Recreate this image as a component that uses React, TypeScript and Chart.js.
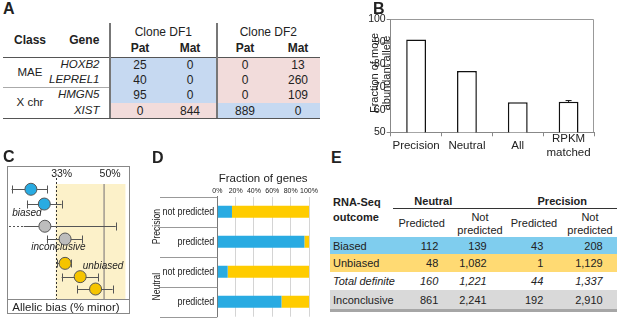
import React, { useEffect, useRef } from "react";
import { Chart, registerables } from "chart.js";
Chart.register(...registerables);

const FONT = "'Liberation Sans', Arial, Helvetica, sans-serif";
const INK = "#222";

// ---------- Panel A data ----------
const aClasses = ["MAE", "X chr"];
const aClassSpan = [2, 2];
const aGenes = ["HOXB2", "LEPREL1", "HMGN5", "XIST"];
const aClones = ["Clone DF1", "Clone DF2"];
const aAlleles = ["Pat", "Mat"];
const aDF1Pat = [25, 40, 95, 0];
const aDF1Mat = [0, 0, 0, 844];
const aDF2Pat = [0, 0, 0, 889];
const aDF2Mat = [13, 260, 109, 0];

// ---------- Panel B data ----------
const bCategories: (string | string[])[] = ["Precision", "Neutral", "All", ["RPKM", "matched"]];
const bValues = [91.0, 77.1, 63.3, 63.5];
const bErrors = [0, 0, 0, 0.5];
const bYMin = 50;
const bYMax = 100;
const bYStep = 10;

// ---------- Panel C data ----------
const cValues = [24.3, 29.0, 29.2, 36.3, 36.3, 41.6, 47.0];
const cLow = [17.5, 22.9, 21.8, 29.9, 33.4, 35.1, 40.5];
const cHigh = [30.0, 35.1, 54.1, 42.2, 38.5, 47.9, 53.0];
const cOpenLow = [false, false, true, false, false, false, false];
const cRows = [1.75, 2.86, 4.53, 5.49, 7.32, 8.32, 9.25];
const cClasses = ["biased", "biased", "inconclusive", "inconclusive", "unbiased", "unbiased", "unbiased"];
const cClassLabels = ["biased", "inconclusive", "unbiased"];
const cClassLabelX = [17.7, 24.4, 42.5];
const cClassLabelRow = [3.56, 6.07, 7.5];
const cRefLines = [33, 50];
const cRefTickLabels = ["33%", "50%"];
const cUnbiasedRange = [33, 57.5];
const cXRange = [15.9, 59.1];

// ---------- Panel D data ----------
const dCategories = ["not predicted", "predicted", "not predicted", "predicted"];
const dGroups = ["Precision", "Neutral"];
const dBiased = [16, 95, 11.3, 70];
const dUnbiased = [84, 5, 88.7, 30];
const dTicks = [0, 20, 40, 60, 80, 100];

// ---------- Panel E data ----------
const eRowLabels = ["Biased", "Unbiased", "Total definite", "Inconclusive"];
const eGroups = ["Neutral", "Precision"];
const eSubHeads = ["Predicted", "Not\npredicted", "Predicted", "Not\npredicted"];
const eNeutralPredicted = [112, 48, 160, 861];
const eNeutralNotPredicted = [139, 1082, 1221, 2241];
const ePrecisionPredicted = [43, 1, 44, 192];
const ePrecisionNotPredicted = [208, 1129, 1337, 2910];

const BLUE = "#29abe2";
const YELLOW = "#ffcc00";
const GRAY_PT = "#bdbdbd";

type TxtProps = {
  x: number;
  y: number;
  children: React.ReactNode;
  align?: "left" | "center" | "right";
  size?: number;
  bold?: boolean;
  italic?: boolean;
  color?: string;
  rotate?: boolean;
};

function Txt({ x, y, children, align = "left", size = 11, bold, italic, color, rotate }: TxtProps) {
  const tx = rotate ? "-50%" : align === "left" ? "0" : align === "center" ? "-50%" : "-100%";
  return (
    <div
      style={{
        position: "absolute",
        left: x,
        top: y,
        transform: `translate(${tx},-50%)${rotate ? " rotate(-90deg)" : ""}`,
        fontSize: size,
        lineHeight: 1,
        fontWeight: bold ? "bold" : "normal",
        fontStyle: italic ? "italic" : "normal",
        whiteSpace: "pre",
        textAlign: "center",
        fontFamily: FONT,
        color: color ?? INK,
      }}
    >
      {children}
    </div>
  );
}

function Rect({ x, y, w, h, bg }: { x: number; y: number; w: number; h: number; bg: string }) {
  return <div style={{ position: "absolute", left: x, top: y, width: w, height: h, background: bg }} />;
}

function PanelA() {
  const rowTop = 57.3;
  const rowH = 15.25;
  const colX = [110, 216.7, 320];
  const valueCols = [aDF1Pat, aDF1Mat, aDF2Pat, aDF2Mat];
  const valueX = [140, 190, 245, 298];
  const cells: React.ReactNode[] = [];
  aGenes.forEach((g, r) => {
    const y = rowTop + r * rowH;
    const df1Blue = aDF1Pat[r] > aDF1Mat[r];
    const df2Blue = aDF2Pat[r] > aDF2Mat[r];
    cells.push(<Rect key={"c1" + r} x={colX[0]} y={y} w={colX[1] - colX[0]} h={rowH + 0.5} bg={df1Blue ? "#c6d9f1" : "#f2dcdb"} />);
    cells.push(<Rect key={"c2" + r} x={colX[1]} y={y} w={colX[2] - colX[1]} h={rowH + 0.5} bg={df2Blue ? "#c6d9f1" : "#f2dcdb"} />);
  });
  let acc = 0;
  const classes = aClasses.map((c, i) => {
    const start = acc;
    acc += aClassSpan[i];
    const yc = rowTop + ((start + acc) / 2) * rowH;
    return (
      <Txt key={"cl" + i} x={30} y={yc} align="center" size={11.5}>
        {c}
      </Txt>
    );
  });
  return (
    <>
      {cells}
      <Txt x={3} y={9} size={16} bold>A</Txt>
      <Txt x={30} y={40} align="center" size={12} bold>Class</Txt>
      <Txt x={84.3} y={40} align="center" size={12} bold>Gene</Txt>
      {aClones.map((c, i) => (
        <Txt key={c} x={(colX[i] + colX[i + 1]) / 2} y={32.3} align="center" size={12}>
          {c}
        </Txt>
      ))}
      {valueX.map((x, i) => (
        <Txt key={"al" + i} x={x} y={48.3} align="center" size={12} bold>
          {aAlleles[i % 2]}
        </Txt>
      ))}
      {aGenes.map((g, r) => (
        <Txt key={g} x={99.5} y={rowTop + (r + 0.5) * rowH} align="right" size={11.5} italic>
          {g}
        </Txt>
      ))}
      {valueCols.map((col, ci) =>
        col.map((v, r) => (
          <Txt key={"v" + ci + r} x={valueX[ci]} y={rowTop + (r + 0.5) * rowH} align="center" size={12}>
            {v}
          </Txt>
        ))
      )}
      {classes}
      <Rect x={3} y={rowTop - 0.75} w={317} h={1.5} bg="#555" />
      <Rect x={3} y={rowTop + 4 * rowH - 0.75} w={317} h={1.5} bg="#555" />
      <Rect x={3} y={rowTop + 2 * rowH - 0.5} w={107} h={1} bg="#aaa" />
      <Rect x={colX[0] - 1} y={23} w={2} h={rowTop + 4 * rowH - 23} bg="#777" />
      <Rect x={colX[1] - 1} y={23} w={2} h={rowTop + 4 * rowH - 23} bg="#777" />
    </>
  );
}

function PanelE() {
  const bands = [
    [237, 254, "#7fcdee"],
    [254, 272, "#ffda73"],
    [272, 290, "#ffffff"],
    [290, 309, "#d9d9d9"],
  ] as [number, number, string][];
  const cols = [eNeutralPredicted, eNeutralNotPredicted, ePrecisionPredicted, ePrecisionNotPredicted];
  const colRight = [438.3, 486.7, 543.3, 602.7];
  const subX = [421.7, 480, 534, 590];
  return (
    <>
      {bands.map(([a, b, c], i) => (
        <Rect key={"b" + i} x={330} y={a} w={287} h={b - a} bg={c} />
      ))}
      <Rect x={330} y={309} w={287} h={3} bg="#a6a6a6" />
      <Txt x={331} y={158} size={16} bold>E</Txt>
      <Txt x={333} y={201.7} size={11} bold>RNA-Seq</Txt>
      <Txt x={333} y={216.7} size={11} bold>outcome</Txt>
      <Txt x={433.3} y={200.5} align="center" size={11} bold>{eGroups[0]}</Txt>
      <Txt x={562.3} y={200.5} align="center" size={11} bold>{eGroups[1]}</Txt>
      <Rect x={393} y={208} w={224} h={1} bg="#333" />
      {eSubHeads.map((s, i) => (
        <div
          key={"sh" + i}
          style={{
            position: "absolute",
            left: subX[i],
            top: 223.5,
            transform: "translate(-50%,-50%)",
            fontSize: 11,
            lineHeight: "13.5px",
            textAlign: "center",
            whiteSpace: "pre",
            fontFamily: FONT,
            color: INK,
          }}
        >
          {s}
        </div>
      ))}
      {eRowLabels.map((l, r) => (
        <Txt key={l} x={333} y={(bands[r][0] + bands[r][1]) / 2} size={11} italic={r === 2}>
          {l}
        </Txt>
      ))}
      {cols.map((col, ci) =>
        col.map((v, r) => (
          <Txt key={"e" + ci + r} x={colRight[ci]} y={(bands[r][0] + bands[r][1]) / 2} align="right" size={11} italic={r === 2}>
            {v.toLocaleString("en-US")}
          </Txt>
        ))
      )}
    </>
  );
}

export default function App() {
  const bRef = useRef<HTMLCanvasElement>(null);
  const cRef = useRef<HTMLCanvasElement>(null);
  const dRef = useRef<HTMLCanvasElement>(null);

  useEffect(() => {
    const charts: Chart[] = [];

    // ----- Panel B -----
    const bPlugin = {
      id: "bDecor",
      afterDatasetsDraw(chart: any) {
        const { ctx, chartArea: a, scales } = chart;
        ctx.save();
        ctx.strokeStyle = "#999";
        ctx.lineWidth = 1;
        ctx.beginPath();
        ctx.moveTo(a.left, a.top + 0.5);
        ctx.lineTo(a.right - 0.5, a.top + 0.5);
        ctx.lineTo(a.right - 0.5, a.bottom);
        ctx.stroke();
        ctx.strokeStyle = "#111";
        ctx.lineWidth = 1;
        bErrors.forEach((e, i) => {
          if (!e) return;
          const x = scales.x.getPixelForValue(i);
          const y1 = scales.y.getPixelForValue(bValues[i] + e);
          const y0 = scales.y.getPixelForValue(bValues[i] - e);
          ctx.beginPath();
          ctx.moveTo(x, y0);
          ctx.lineTo(x, y1);
          ctx.moveTo(x - 3, y1);
          ctx.lineTo(x + 3, y1);
          ctx.stroke();
        });
        ctx.restore();
      },
    };
    charts.push(
      new Chart(bRef.current!, {
        type: "bar",
        data: {
          labels: bCategories as any,
          datasets: [
            {
              data: bValues,
              backgroundColor: "#ffffff",
              borderColor: "#111",
              borderWidth: 1.5,
              barPercentage: 0.39,
              categoryPercentage: 1,
            },
          ],
        },
        options: {
          responsive: false,
          animation: false,
          layout: { padding: { left: 0, right: 23, top: 19, bottom: 0 } },
          plugins: { legend: { display: false }, tooltip: { enabled: false } },
          scales: {
            x: {
              grid: { display: true, drawOnChartArea: false, drawTicks: true, tickLength: 4, color: "#888", offset: true },
              border: { color: "#888" },
              ticks: {
                font: { family: FONT, size: 11.5 },
                color: INK,
                padding: 3,
                crossAlign: "center",
                maxRotation: 0,
                minRotation: 0,
                autoSkip: false,
              } as any,
              afterFit: (s: any) => {
                s.height = 32.7;
              },
            },
            y: {
              min: bYMin,
              max: bYMax,
              ticks: { stepSize: bYStep, font: { family: FONT, size: 10.5 }, color: INK, padding: 1, autoSkip: false },
              grid: { drawOnChartArea: false, drawTicks: true, tickLength: 4, color: "#888" },
              border: { color: "#888" },
              afterFit: (s: any) => {
                s.width = 30.7;
              },
            },
          },
        },
        plugins: [bPlugin],
      })
    );

    // ----- Panel C -----
    const classColor: Record<string, string> = { biased: BLUE, inconclusive: GRAY_PT, unbiased: "#f5c400" };
    const cPlugin = {
      id: "cDecor",
      beforeDatasetsDraw(chart: any) {
        const { ctx, chartArea: a, scales } = chart;
        const X = scales.x, Y = scales.y;
        ctx.save();
        const bx0 = X.getPixelForValue(cUnbiasedRange[0]);
        const bx1 = X.getPixelForValue(cUnbiasedRange[1]);
        const bandTop = a.top + 18;
        ctx.fillStyle = "#fcf1c9";
        ctx.fillRect(bx0, bandTop, bx1 - bx0, a.bottom - bandTop);
        const r50 = X.getPixelForValue(cRefLines[1]);
        ctx.strokeStyle = "#a09a90";
        ctx.lineWidth = 1.5;
        ctx.beginPath();
        ctx.moveTo(r50, bandTop);
        ctx.lineTo(r50, a.bottom);
        ctx.stroke();
        const r33 = X.getPixelForValue(cRefLines[0]);
        ctx.strokeStyle = "#333";
        ctx.lineWidth = 1;
        ctx.setLineDash([2, 2]);
        ctx.beginPath();
        ctx.moveTo(Math.round(r33) + 0.5, a.top + 12);
        ctx.lineTo(Math.round(r33) + 0.5, a.bottom);
        ctx.stroke();
        ctx.setLineDash([]);
        ctx.fillStyle = INK;
        ctx.font = `10.5px ${FONT}`;
        ctx.textAlign = "center";
        ctx.textBaseline = "middle";
        cRefLines.forEach((v, i) => {
          ctx.fillText(cRefTickLabels[i], X.getPixelForValue(v) + 6, a.top + 8.5);
        });
        ctx.strokeStyle = "#555";
        ctx.lineWidth = 1;
        cValues.forEach((v, i) => {
          const y = Math.round(Y.getPixelForValue(cRows[i])) + 0.5;
          const xl = X.getPixelForValue(cLow[i]);
          const xh = X.getPixelForValue(cHigh[i]);
          ctx.beginPath();
          ctx.moveTo(xl, y);
          ctx.lineTo(xh, y);
          ctx.moveTo(Math.round(xh) + 0.5, y - 4);
          ctx.lineTo(Math.round(xh) + 0.5, y + 4);
          if (!cOpenLow[i]) {
            ctx.moveTo(Math.round(xl) + 0.5, y - 4);
            ctx.lineTo(Math.round(xl) + 0.5, y + 4);
          }
          ctx.stroke();
          if (cOpenLow[i]) {
            ctx.setLineDash([2, 2]);
            ctx.beginPath();
            ctx.moveTo(a.left + 2, y);
            ctx.lineTo(xl, y);
            ctx.stroke();
            ctx.setLineDash([]);
          }
        });
        ctx.font = `italic 10px ${FONT}`;
        ctx.textAlign = "left";
        ctx.fillStyle = INK;
        cClassLabels.forEach((l, i) => {
          ctx.fillText(l, X.getPixelForValue(cClassLabelX[i]), Y.getPixelForValue(cClassLabelRow[i]));
        });
        ctx.restore();
      },
      afterDraw(chart: any) {
        const { ctx, chartArea: a } = chart;
        ctx.save();
        ctx.strokeStyle = "#888";
        ctx.lineWidth = 1;
        ctx.strokeRect(a.left + 0.5, a.top + 0.5, a.right - a.left - 1, a.bottom - a.top + 14);
        ctx.beginPath();
        ctx.moveTo(a.left, a.bottom + 0.5);
        ctx.lineTo(a.right, a.bottom + 0.5);
        ctx.stroke();
        ctx.fillStyle = INK;
        ctx.font = `11.5px ${FONT}`;
        ctx.textAlign = "left";
        ctx.textBaseline = "middle";
        ctx.fillText("Allelic bias (% minor)", a.left + 5.3, a.bottom + 8.5);
        ctx.restore();
      },
    };
    charts.push(
      new Chart(cRef.current!, {
        type: "scatter",
        data: {
          datasets: [
            {
              data: cValues.map((v, i) => ({ x: v, y: cRows[i] })),
              pointRadius: 6,
              pointBackgroundColor: cClasses.map((c) => classColor[c]),
              pointBorderColor: "#555",
              pointBorderWidth: 1,
              clip: false as any,
            },
          ],
        },
        options: {
          responsive: false,
          animation: false,
          layout: { padding: { left: 3, right: 30, top: 21, bottom: 20 } },
          plugins: { legend: { display: false }, tooltip: { enabled: false } },
          scales: {
            x: { type: "linear", min: cXRange[0], max: cXRange[1], display: false },
            y: { type: "linear", min: 0, max: 10, reverse: true, display: false },
          },
        },
        plugins: [cPlugin],
      })
    );

    // ----- Panel D -----
    const dPlugin = {
      id: "dDecor",
      afterDraw(chart: any) {
        const { ctx, chartArea: a, scales } = chart;
        const Y = scales.y;
        ctx.save();
        ctx.strokeStyle = "#999";
        ctx.lineWidth = 1;
        for (let i = 0; i <= dCategories.length; i++) {
          const y = Math.round(Y.getPixelForValue(i - 0.5)) + 0.5;
          ctx.beginPath();
          ctx.moveTo(15, y);
          ctx.lineTo(a.left, y);
          ctx.stroke();
        }
        ctx.fillStyle = INK;
        ctx.textBaseline = "middle";
        // category labels (condensed)
        ctx.font = `11.5px ${FONT}`;
        ctx.textAlign = "right";
        dCategories.forEach((c, i) => {
          ctx.save();
          ctx.translate(a.left - 3, Y.getPixelForValue(i));
          ctx.scale(0.78, 1);
          ctx.fillText(c, 0, 0);
          ctx.restore();
        });
        // group labels
        ctx.font = `11px ${FONT}`;
        ctx.textAlign = "center";
        dGroups.forEach((g, gi) => {
          const yc = Y.getPixelForValue(gi * 2 + 0.5);
          ctx.save();
          ctx.translate(12, yc);
          ctx.rotate(-Math.PI / 2);
          ctx.scale(0.78, 1);
          ctx.fillText(g, 0, 0);
          ctx.restore();
        });
        ctx.restore();
      },
    };
    charts.push(
      new Chart(dRef.current!, {
        type: "bar",
        data: {
          labels: dCategories,
          datasets: [
            { label: "Biased", data: dBiased, backgroundColor: BLUE, barPercentage: 0.4, categoryPercentage: 1 },
            { label: "Unbiased", data: dUnbiased, backgroundColor: YELLOW, barPercentage: 0.4, categoryPercentage: 1 },
          ],
        },
        options: {
          indexAxis: "y",
          responsive: false,
          animation: false,
          layout: { padding: { left: 0, right: 21, top: 27, bottom: 2.3 } },
          plugins: { legend: { display: false }, tooltip: { enabled: false } },
          scales: {
            x: {
              position: "top",
              stacked: true,
              min: 0,
              max: 100,
              afterBuildTicks: (s: any) => {
                s.ticks = dTicks.map((v) => ({ value: v }));
              },
              ticks: {
                callback: (v: any) => v + "%",
                font: { family: FONT, size: 7 },
                color: INK,
                padding: 1,
                maxRotation: 0,
                minRotation: 0,
                autoSkip: false,
              },
              grid: { color: "#d4d4d4", drawTicks: false },
              border: { display: false },
              title: { display: true, text: "Fraction of genes", font: { family: FONT, size: 11.5 }, color: INK, padding: 0 },
              afterFit: (s: any) => {
                s.height = 24.7;
              },
            },
            y: {
              stacked: true,
              ticks: { display: false },
              grid: { display: false },
              border: { display: true, color: "#777" },
              afterFit: (s: any) => {
                s.width = 72.3;
              },
            },
          },
        },
        plugins: [dPlugin],
      })
    );

    return () => charts.forEach((c) => c.destroy());
  }, []);

  return (
    <div
      style={{
        position: "absolute",
        left: 0,
        top: 0,
        width: 617,
        height: 319,
        overflow: "hidden",
        background: "#fff",
        fontFamily: FONT,
        color: INK,
      }}
    >
      <PanelA />
      <PanelE />
      <canvas ref={bRef} width={257} height={165} style={{ position: "absolute", left: 360, top: 0, width: 257, height: 165 }} />
      <canvas ref={cRef} width={160} height={174} style={{ position: "absolute", left: 0, top: 145, width: 160, height: 174 }} />
      <canvas ref={dRef} width={185} height={174} style={{ position: "absolute", left: 145, top: 145, width: 185, height: 174 }} />
      <Txt x={373} y={9} size={16} bold>B</Txt>
      <Txt x={374} y={73} size={11} rotate>Fraction of more</Txt>
      <Txt x={386} y={73} size={11} rotate>abundant allele</Txt>
      <Txt x={3} y={157} size={16} bold>C</Txt>
      <Txt x={152} y={157.5} size={16} bold>D</Txt>
    </div>
  );
}
